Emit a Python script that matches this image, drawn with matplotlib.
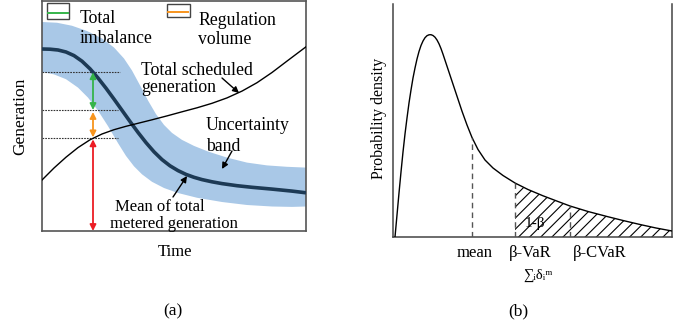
import numpy as np
import matplotlib
matplotlib.use('Agg')
import matplotlib.pyplot as plt
from matplotlib.patches import Rectangle

plt.rcParams['font.family'] = ['Liberation Serif', 'DejaVu Serif']
plt.rcParams['hatch.linewidth'] = 0.8

W, H = 689, 329

# ---------------- panel (a): schematic, arbitrary units ----------------
mean_time = [0, 8, 16, 24, 32, 40, 48, 56, 64, 72, 80, 88, 96, 104, 112, 120, 128, 136,
             144, 152, 160, 170, 180, 195, 210, 230, 250, 264]
mean_gen = [182, 181.8, 181, 179, 175.4, 169.8, 162.2, 153, 142.8, 131.9, 120.7, 109.5,
            98.6, 88.4, 79.2, 71.4, 65.2, 60.4, 56.6, 53.7, 51.4, 49.2, 47.4, 45.3, 43.7,
            41.9, 39.9, 38.2]

sched_time = [0, 12, 24, 36, 48, 60, 72, 84, 96, 110, 125, 140, 155, 170, 185, 200, 215,
              230, 245, 264]
sched_gen = [51, 63, 73.8, 83.4, 91.2, 97, 101.3, 104.7, 107.7, 111.2, 115.1, 119.2,
             123.2, 127.7, 133.1, 139.9, 148.3, 158.5, 169.9, 184.2]

band_up_time = [0, 15, 30, 45, 60, 72, 82, 90, 98, 106, 114, 122, 130, 140, 152, 166, 185,
                205, 225, 245, 264]
band_up_gen = [209, 208.25, 205.25, 200, 192.5, 183.5, 172.5, 160.5, 145.7, 130.5, 116.9,
               106.1, 98.1, 91.1, 85.1, 79.5, 73.4, 68.4, 65.6, 64.2, 63.4]
band_lo_time = [0, 12, 24, 36, 46, 56, 66, 76, 84, 92, 100, 110, 122, 136, 155, 180, 205,
                230, 250, 264]
band_lo_gen = [159, 156.6, 151.8, 143.4, 133.4, 120.4, 104.9, 87.9, 75.1, 64.7, 56.7, 49.2,
               43, 38, 33.25, 29, 26, 24.5, 24.1, 24.5]

arrow_time = 51
level_reg = 121       # boundary imbalance / regulation
dotted_end = [78, 76, 76]

# ---------------- panel (b): probability density, arbitrary units ----------------
pdf_x = [2, 4, 6, 8, 10, 12, 14, 16, 18, 20, 22, 24, 26, 28, 30, 32, 34, 36, 38, 40, 42,
         44, 46, 48, 50, 54, 59, 64, 69, 74, 79, 85, 92, 100, 110, 122, 135, 150, 165, 177,
         195, 214, 230, 247, 263, 279]
pdf_y = [0, 22, 44, 65, 85, 103, 119, 134, 147, 159, 169, 178, 185.5, 191.5, 196, 199.3,
         201.3, 202.2, 202.3, 201.5, 199.8, 197, 193.2, 188.4, 182.8, 170.8, 155.8, 140.8,
         125.8, 112, 99.5, 87.5, 77, 69, 61.5, 54, 47.5, 41.2, 35.5, 31, 25.5, 20.5, 16.5,
         12.5, 9, 6]
x_mean, x_var, x_cvar = 79, 122, 177
b_labels = ['mean', 'β-VaR', 'β-CVaR']
b_label_x = [82, 137, 207]

green, orange, red = '#35b44a', '#f7941d', '#ec1c24'
band_col = '#a9c8e7'
navy = '#1d3a55'
frame = '#555555'

fig = plt.figure(figsize=(W / 100, H / 100), dpi=100)


def fx(px):
    return px / W


def fy(py):
    return 1 - py / H


# ======== panel (a) ========
axA = fig.add_axes([fx(42), fy(231), (306 - 42) / W, (231 - 1) / H])
axA.set_xlim(0, 264)
axA.set_ylim(0, 230)
axA.set_xticks([])
axA.set_yticks([])
for s in axA.spines.values():
    s.set_color(frame)
    s.set_linewidth(1.2)

axA.fill(np.concatenate([band_up_time, band_lo_time[::-1]]),
         np.concatenate([band_up_gen, band_lo_gen[::-1]]),
         color=band_col, lw=0, zorder=1)
axA.plot(mean_time, mean_gen, color=navy, lw=2.6, zorder=3, solid_capstyle='butt',
         solid_joinstyle='round')
axA.plot(sched_time, sched_gen, color='black', lw=1.0, zorder=3, solid_joinstyle='round')

level_mean = float(np.interp(arrow_time, mean_time, mean_gen))
level_sched = float(np.interp(arrow_time, sched_time, sched_gen))

for lev, xe in zip([level_mean, level_reg, level_sched], dotted_end):
    axA.plot([0, xe], [lev, lev], color='#333333', lw=0.8, ls=(0, (1.5, 1)), zorder=2)

ap = dict(arrowstyle='<|-|>', lw=1.3, mutation_scale=9, shrinkA=0, shrinkB=0)
axA.annotate('', xy=(arrow_time, level_mean), xytext=(arrow_time, level_reg),
             arrowprops=dict(ap, color=green), zorder=4)
axA.annotate('', xy=(arrow_time, level_reg - 2), xytext=(arrow_time, level_sched + 1),
             arrowprops=dict(ap, color=orange), zorder=4)
axA.annotate('', xy=(arrow_time, level_sched - 1), xytext=(arrow_time, 0),
             arrowprops=dict(ap, color=red), zorder=4)

# legend-like keys
axA.add_patch(Rectangle((5, 212), 22, 16, fill=False, ec='#444444', lw=1.0, zorder=5))
axA.plot([6, 26], [218, 218], color=green, lw=1.4, zorder=5)
axA.add_patch(Rectangle((125, 214), 23, 13, fill=False, ec='#444444', lw=1.0, zorder=5))
axA.plot([126, 146], [219, 219], color=orange, lw=1.4, zorder=5)

fs = 12.8
axA.text(38, 208, 'Total', fontsize=fs, va='baseline', zorder=6)
axA.text(38, 188, 'imbalance', fontsize=fs, va='baseline', zorder=6)
axA.text(156, 206, 'Regulation', fontsize=fs, va='baseline', zorder=6)
axA.text(156, 187, 'volume', fontsize=fs, va='baseline', zorder=6)
axA.text(99, 156, 'Total scheduled', fontsize=fs, va='baseline', zorder=6)
axA.text(99, 139, 'generation', fontsize=fs, va='baseline', zorder=6)
axA.text(164, 101, 'Uncertainty', fontsize=fs, va='baseline', zorder=6)
axA.text(164, 80, 'band', fontsize=fs, va='baseline', zorder=6)
axA.text(73, 20, 'Mean of total', fontsize=12, va='baseline', zorder=6)
axA.text(68, 3, 'metered generation', fontsize=12, va='baseline', zorder=6)

ap2 = dict(arrowstyle='-|>', lw=1.0, color='black', mutation_scale=9, shrinkA=0, shrinkB=0)
axA.annotate('', xy=(197, 138), xytext=(180, 153), arrowprops=ap2, zorder=6)
axA.annotate('', xy=(180, 62), xytext=(190, 80), arrowprops=ap2, zorder=6)
axA.annotate('', xy=(145, 55), xytext=(131, 34), arrowprops=ap2, zorder=6)

fig.text(fx(20), fy(116), 'Generation', fontsize=12.5, rotation=90, ha='center', va='center')
fig.text(fx(175), fy(252), 'Time', fontsize=12, ha='center', va='center')
fig.text(fx(173), fy(311), '(a)', fontsize=12.5, ha='center', va='center')

# ======== panel (b) ========
axB = fig.add_axes([fx(393), fy(237), (672 - 393) / W, (237 - 4) / H])
axB.set_xlim(0, 279)
axB.set_ylim(0, 233)
axB.set_xticks([])
axB.set_yticks([])
axB.spines['top'].set_visible(False)
for k in ['left', 'right', 'bottom']:
    axB.spines[k].set_color('#444444')
    axB.spines[k].set_linewidth(1.1)

axB.plot(pdf_x, pdf_y, color='black', lw=1.0, zorder=3, solid_joinstyle='round')
px_arr = np.array(pdf_x, dtype=float)
py_arr = np.array(pdf_y, dtype=float)
tail = px_arr >= x_var
axB.fill_between(px_arr[tail], 0, py_arr[tail], facecolor='none', edgecolor='black',
                 hatch='///', linewidth=0, zorder=2)
for xv in [x_mean, x_var, x_cvar]:
    yv = np.interp(xv, px_arr, py_arr)
    axB.plot([xv, xv], [0, yv], color='#555555', lw=1.0, ls=(0, (4, 3)), zorder=3)

axB.text(142, 13, '1-β', fontsize=11, ha='center', va='center', zorder=4)
for lab, lx in zip(b_labels, b_label_x):
    axB.text(lx, -20, lab, fontsize=12, ha='center', va='baseline', clip_on=False)
axB.text(145, -42, '∑ᵢδᵢᵐ', fontsize=10.5, ha='center', va='baseline', clip_on=False)

fig.text(fx(379), fy(118), 'Probability density', fontsize=11.5, rotation=90,
         ha='center', va='center')
fig.text(fx(518), fy(311), '(b)', fontsize=12.5, ha='center', va='center')

fig.savefig('out.png', dpi=100)
